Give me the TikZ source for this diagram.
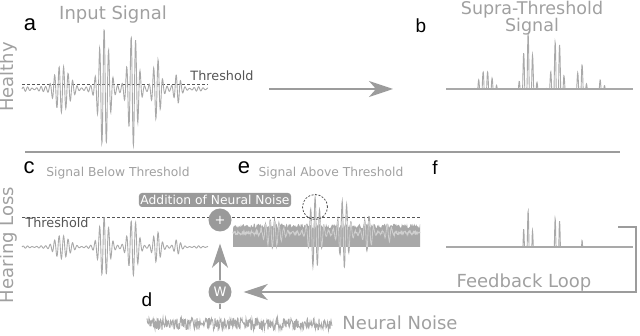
\documentclass[tikz,border=0pt]{standalone}
\usepackage{fontspec}
\setmainfont{DejaVu Sans}
\newfontfamily\letterfont{Liberation Sans}
\usepackage{tikz}
\usetikzlibrary{arrows.meta}
\definecolor{sig}{HTML}{A9A9A9}
\definecolor{siglight}{HTML}{CFCFCF}
\definecolor{txtgray}{HTML}{A0A0A0}
\definecolor{darkline}{HTML}{555555}
\definecolor{linegray}{HTML}{9C9C9C}
\definecolor{opgray}{HTML}{9A9A9A}
\definecolor{bandgray}{HTML}{A8A8A8}

\begin{document}
\begin{tikzpicture}[x=1pt, y=-1pt,
  declare function={
    bump(\u,\c,\w)=exp(-((\u-\c)/\w)*((\u-\c)/\w));
    envl(\u)=22*bump(\u,40,9.5)+58*bump(\u,82,7)+55*bump(\u,111,6.5)+30*bump(\u,135,5)+14*bump(\u,155,4);
    sig(\u)=(envl(\u)+1.5+0.8*sin(23*\u))*sin(80*\u);
  },
  title/.style={text=txtgray, font=\fontsize{18}{18}\selectfont, inner sep=0pt},
  small/.style={text=txtgray, font=\fontsize{12.3}{14}\selectfont, inner sep=0pt},
  thrlabel/.style={text=darkline, font=\fontsize{12.8}{14}\selectfont, inner sep=0pt},
  panel/.style={font=\letterfont\fontsize{19}{19}\selectfont, inner sep=0pt},
  panellow/.style={font=\letterfont\fontsize{22}{22}\selectfont, inner sep=0pt},
  tag/.style={rectangle, rounded corners=3pt, fill=opgray, text=white,
              font=\fontsize{12.3}{14}\selectfont, inner sep=1.5pt, minimum height=14pt},
  op/.style={circle, fill=opgray, text=white, minimum size=23pt, inner sep=0pt,
             font=\fontsize{13}{13}\selectfont},
  wave/.style={draw=sig, line width=0.9pt},
  axisline/.style={draw=sig, line width=1.2pt},
  thline/.style={draw=darkline, dash pattern=on 3pt off 2pt, line width=0.7pt},
  conn/.style={draw=linegray, line width=2pt},
  arrow/.style={conn, -{Stealth[length=24pt, width=16pt, inset=7pt]}},
]
\useasboundingbox (0,0) rectangle (640,336);
\pgfmathsetseed{7}

\coordinate (tha0) at (22,84);
\coordinate (tha1) at (208,84);
\coordinate (thc0) at (22,217);
\coordinate (thc1) at (421,217);
\coordinate (arr0) at (269,89);
\coordinate (arr1) at (393,89);
\coordinate (sep0) at (25,152);
\coordinate (sep1) at (620,152);
\coordinate (b0) at (446,89);
\coordinate (b1) at (633,89);
\coordinate (f0) at (446,247);
\coordinate (f1) at (633,247);
\coordinate (fstub) at (618,227);
\coordinate (wtail) at (220,309);

\draw[thline] (tha0) -- (tha1);
\draw[wave] plot[domain=0:186, samples=600] ({22+\x}, {89-sig(\x)});
\draw[axisline] (b0) -- (b1);
\draw[wave] plot[domain=0:186, samples=700] ({446+\x}, {89-max(0,sig(\x)-5)});
\draw[arrow] (arr0) -- (arr1);
\draw[conn] (sep0) -- (sep1);

\draw[thline] (thc0) -- (thc1);
\draw[wave] plot[domain=0:186, samples=600] ({22+\x}, {247-0.5*sig(\x)});
\draw[wave] plot[domain=0:187, samples=600] ({233+\x}, {233-0.6*sig(\x)+1.2*rand});
\fill[bandgray] plot[domain=0:187, samples=260] ({233+\x}, {226+2.5*rand}) -- (420,247) -- (233,247) -- cycle;
\begin{scope}
  \clip (233,222) rectangle (420,247);
  \draw[draw=siglight, line width=0.8pt] plot[domain=0:187, samples=600] ({233+\x}, {233-0.6*sig(\x)+1.2*rand});
\end{scope}
\draw[axisline] (f0) -- (f1);
\draw[wave] plot[domain=0:186, samples=700] ({446+\x}, {247-1.9*max(0,0.5*sig(\x)-11)});
\draw[wave] plot[domain=0:185, samples=371] ({147+\x}, {324+6*rand});

\node[panellow] (la) at (30,25) {a};
\node[title] (tinput) at (113,15) {Input Signal};
\node[title, rotate=90] (thealthy) at (9,77) {Healthy};
\node[thrlabel] (ttha) at (222,76) {Threshold};
\node[panel] (lb) at (421,26) {b};
\node[title, align=center, font=\fontsize{17.5}{17}\selectfont] (tsupra) at (532,18) {Supra-Threshold\\Signal};
\node[panellow] (lc) at (29,168) {c};
\node[small] (tbelow) at (118,173) {Signal Below Threshold};
\node[panellow] (le) at (244,168) {e};
\node[small] (tabove) at (331,173) {Signal Above Threshold};
\node[panel] (lf) at (435,168) {f};
\node[title, rotate=90] (thearing) at (9,245) {Hearing Loss};
\node[tag] (tadd) at (215,200) {Addition of Neural Noise};
\node[thrlabel] (tthc) at (57,223) {Threshold};
\node[op] (plus) at (220,220) {+};
\node[op] (w) at (220,292) {W};
\node[panel] (ld) at (147,300) {d};
\node[title] (tnoise) at (400,323) {Neural Noise};
\node[title] (tfeedback) at (524,283) {Feedback Loop};
\node[circle, draw=darkline, dash pattern=on 2pt off 1.5pt, line width=0.8pt, minimum size=25pt] (peak) at (315,207) {};

\draw[conn] (wtail) -- (w);
\draw[arrow, shorten >=12pt] (w) -- (plus);
\draw[arrow, shorten >=12pt] (fstub) -- ++(18,0) |- (w);
\end{tikzpicture}
\end{document}
